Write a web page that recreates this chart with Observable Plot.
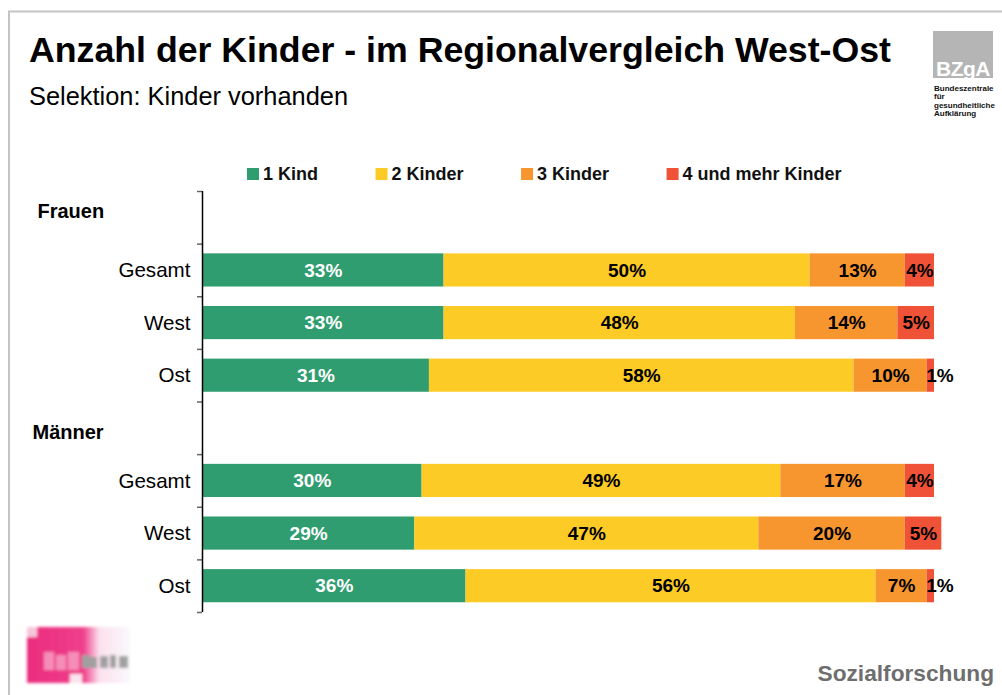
<!DOCTYPE html>
<html>
<head>
<meta charset="utf-8">
<script src="https://cdn.jsdelivr.net/npm/d3@7"></script>
<script src="https://cdn.jsdelivr.net/npm/@observablehq/plot@0.6"></script>
<style>
  body { margin: 0; background: #fff; }
  #wrap { position: relative; width: 1002px; height: 695px; overflow: hidden; font-family: "Liberation Sans", Arial, sans-serif; }
  #wrap > svg { position: absolute; left: 0; top: 0; }
</style>
</head>
<body>
<div id="wrap"></div>
<script>
// ---- Data ----
const groups = ["Frauen", "Männer"];
const rows = ["Gesamt", "West", "Ost"];
const categories = ["1 Kind", "2 Kinder", "3 Kinder", "4 und mehr Kinder"];
const frauen = [
  [33, 50, 13, 4],   // Gesamt
  [33, 48, 14, 5],   // West
  [31, 58, 10, 1]    // Ost
];
const maenner = [
  [30, 49, 17, 4],   // Gesamt
  [29, 47, 20, 5],   // West
  [36, 56, 7, 1]     // Ost
];
const colors = ["#2f9d6f", "#fdcb25", "#f7962f", "#ef5236"];
const titleText = "Anzahl der Kinder - im Regionalvergleich West-Ost";
const subtitleText = "Selektion: Kinder vorhanden";
const footerText = "Sozialforschung";
const logoLines = ["Bundeszentrale", "für", "gesundheitliche", "Aufklärung"];

// ---- Build table ----
const table = [];
const rowLabels = [];
const headers = [];
groups.forEach((g, gi) => {
  headers.push({group: g, idx: gi * 4});
  (gi === 0 ? frauen : maenner).forEach((vals, ri) => {
    const idx = gi * 4 + 1 + ri;
    rowLabels.push({row: rows[ri], idx});
    let acc = 0;
    vals.forEach((v, ci) => {
      table.push({group: g, row: rows[ri], idx, cat: categories[ci], value: v, x1: acc, x2: acc + v});
      acc += v;
    });
  });
});

const font = "Liberation Sans, Arial, sans-serif";
const mid = d => (d.x1 + d.x2) / 2;

const chart = Plot.plot({
  width: 1002,
  height: 695,
  marginLeft: 202,
  marginRight: 68,
  marginTop: 191,
  marginBottom: 83,
  style: {fontFamily: font, background: "transparent", overflow: "visible"},
  x: {domain: [0, 100], axis: null},
  y: {domain: [0, 8], reverse: true, axis: null},
  color: {domain: categories, range: colors},
  marks: [
    Plot.rectX(table, {x1: "x1", x2: "x2", y1: d => d.idx + 0.185, y2: d => d.idx + 0.815, fill: "cat"}),
    Plot.axisY(d3.range(9), {anchor: "left", tickSize: 5, tickFormat: () => "", label: null, stroke: "#666", strokeWidth: 1.5}),
    Plot.ruleX([0], {y1: 0, y2: 8, stroke: "#000", strokeWidth: 1.5}),
    // value labels
    Plot.text(table.filter(d => d.cat === categories[0]), {x: mid, y: d => d.idx + 0.5, text: d => d.value + "%", fill: "white", fontWeight: "bold", fontSize: 19}),
    Plot.text(table.filter(d => d.cat !== categories[0] && d.value > 1), {x: mid, y: d => d.idx + 0.5, text: d => d.value + "%", fill: "black", fontWeight: "bold", fontSize: 19}),
    Plot.text(table.filter(d => d.cat !== categories[0] && d.value <= 1), {x: "x1", y: d => d.idx + 0.5, text: d => d.value + "%", fill: "black", fontWeight: "bold", fontSize: 19, textAnchor: "start", dx: -1}),
    // row labels
    Plot.text(rowLabels, {x: 0, y: d => d.idx + 0.5, text: "row", textAnchor: "end", dx: -12, fontSize: 20.6, fill: "#000"}),
    // group headers
    Plot.text(headers.slice(0, 1), {x: 0, y: d => d.idx + 0.5, text: "group", textAnchor: "start", dx: -165, dy: -6, fontSize: 20, fontWeight: "bold", fill: "#000"}),
    Plot.text(headers.slice(1, 2), {x: 0, y: d => d.idx + 0.5, text: "group", textAnchor: "start", dx: -170, dy: 4, fontSize: 20, fontWeight: "bold", fill: "#000"})
  ]
});

const wrap = document.getElementById("wrap");

// ---- Decoration overlay (behind chart) ----
const deco = d3.create("svg").attr("width", 1002).attr("height", 695).style("font-family", font);

// frame
deco.append("path").attr("d", "M9,695 V11.5 H1002").attr("fill", "none").attr("stroke", "#c4c4c4").attr("stroke-width", 2);

// title & subtitle
deco.append("text").attr("x", 29).attr("y", 62).attr("font-size", 35.7).attr("font-weight", "bold").attr("fill", "#000").text(titleText);
deco.append("text").attr("x", 29).attr("y", 105).attr("font-size", 25.4).attr("fill", "#000").text(subtitleText);

// BZgA logo
deco.append("rect").attr("x", 933).attr("y", 31).attr("width", 60).attr("height", 47).attr("fill", "#b5b5b5");
deco.append("text").attr("x", 936).attr("y", 75.5).attr("font-size", 21).attr("font-weight", "bold").attr("fill", "#fff").attr("letter-spacing", -0.5).text("BZgA");
logoLines.forEach((t, i) => {
  deco.append("text").attr("x", 934).attr("y", 91 + i * 8.4).attr("font-size", 8).attr("font-weight", "bold").attr("fill", "#111").text(t);
});

// pink logo bottom-left (blurry image)
const defs = deco.append("defs");
const grad = defs.append("linearGradient").attr("id", "pinkgrad").attr("x1", 0).attr("x2", 1).attr("y1", 0).attr("y2", 0);
grad.append("stop").attr("offset", "0%").attr("stop-color", "#ea2c7e");
grad.append("stop").attr("offset", "55%").attr("stop-color", "#ef3f8b");
grad.append("stop").attr("offset", "70%").attr("stop-color", "#fbe0ee");
grad.append("stop").attr("offset", "100%").attr("stop-color", "#f9f9fb");
defs.append("filter").attr("id", "blur").append("feGaussianBlur").attr("stdDeviation", 1.5);
const lg = deco.append("g").attr("filter", "url(#blur)");
lg.append("rect").attr("x", 27).attr("y", 627).attr("width", 103).attr("height", 56).attr("fill", "url(#pinkgrad)");
lg.append("rect").attr("x", 27).attr("y", 627).attr("width", 10).attr("height", 10).attr("fill", "#f7c7dc");
lg.append("rect").attr("x", 70).attr("y", 674).attr("width", 12).attr("height", 9).attr("fill", "#fbe3ef");
[[44,652,10,18],[56,655,10,15],[68,652,11,18]].forEach(([x,y,w,h]) => {
  lg.append("rect").attr("x", x).attr("y", y).attr("width", w).attr("height", h).attr("fill", "#f58db8");
});
[[82,655,8,13],[90,657,7,11],[100,656,8,12],[110,655,6,13],[119,656,9,12]].forEach(([x,y,w,h]) => {
  lg.append("rect").attr("x", x).attr("y", y).attr("width", w).attr("height", h).attr("fill", "#a0a0a0");
});

// footer
deco.append("text").attr("x", 994).attr("y", 681).attr("text-anchor", "end").attr("font-size", 22.7).attr("font-weight", "bold").attr("fill", "#6e6e6e").text(footerText);

wrap.appendChild(deco.node());
wrap.appendChild(chart);

// legend (laid out by measured text widths)
const leg = d3.select(chart).append("g").style("font-family", font).attr("text-anchor", "start");
let lx = 247;
categories.forEach((c, i) => {
  leg.append("rect").attr("x", lx).attr("y", 168).attr("width", 12).attr("height", 12).attr("fill", colors[i]);
  const t = leg.append("text").attr("x", lx + 16).attr("y", 179.5).attr("text-anchor", "start").attr("font-size", 18).attr("font-weight", "bold").attr("fill", "#111").text(c);
  lx += 16 + t.node().getComputedTextLength() + 57.5;
});
</script>
</body>
</html>
